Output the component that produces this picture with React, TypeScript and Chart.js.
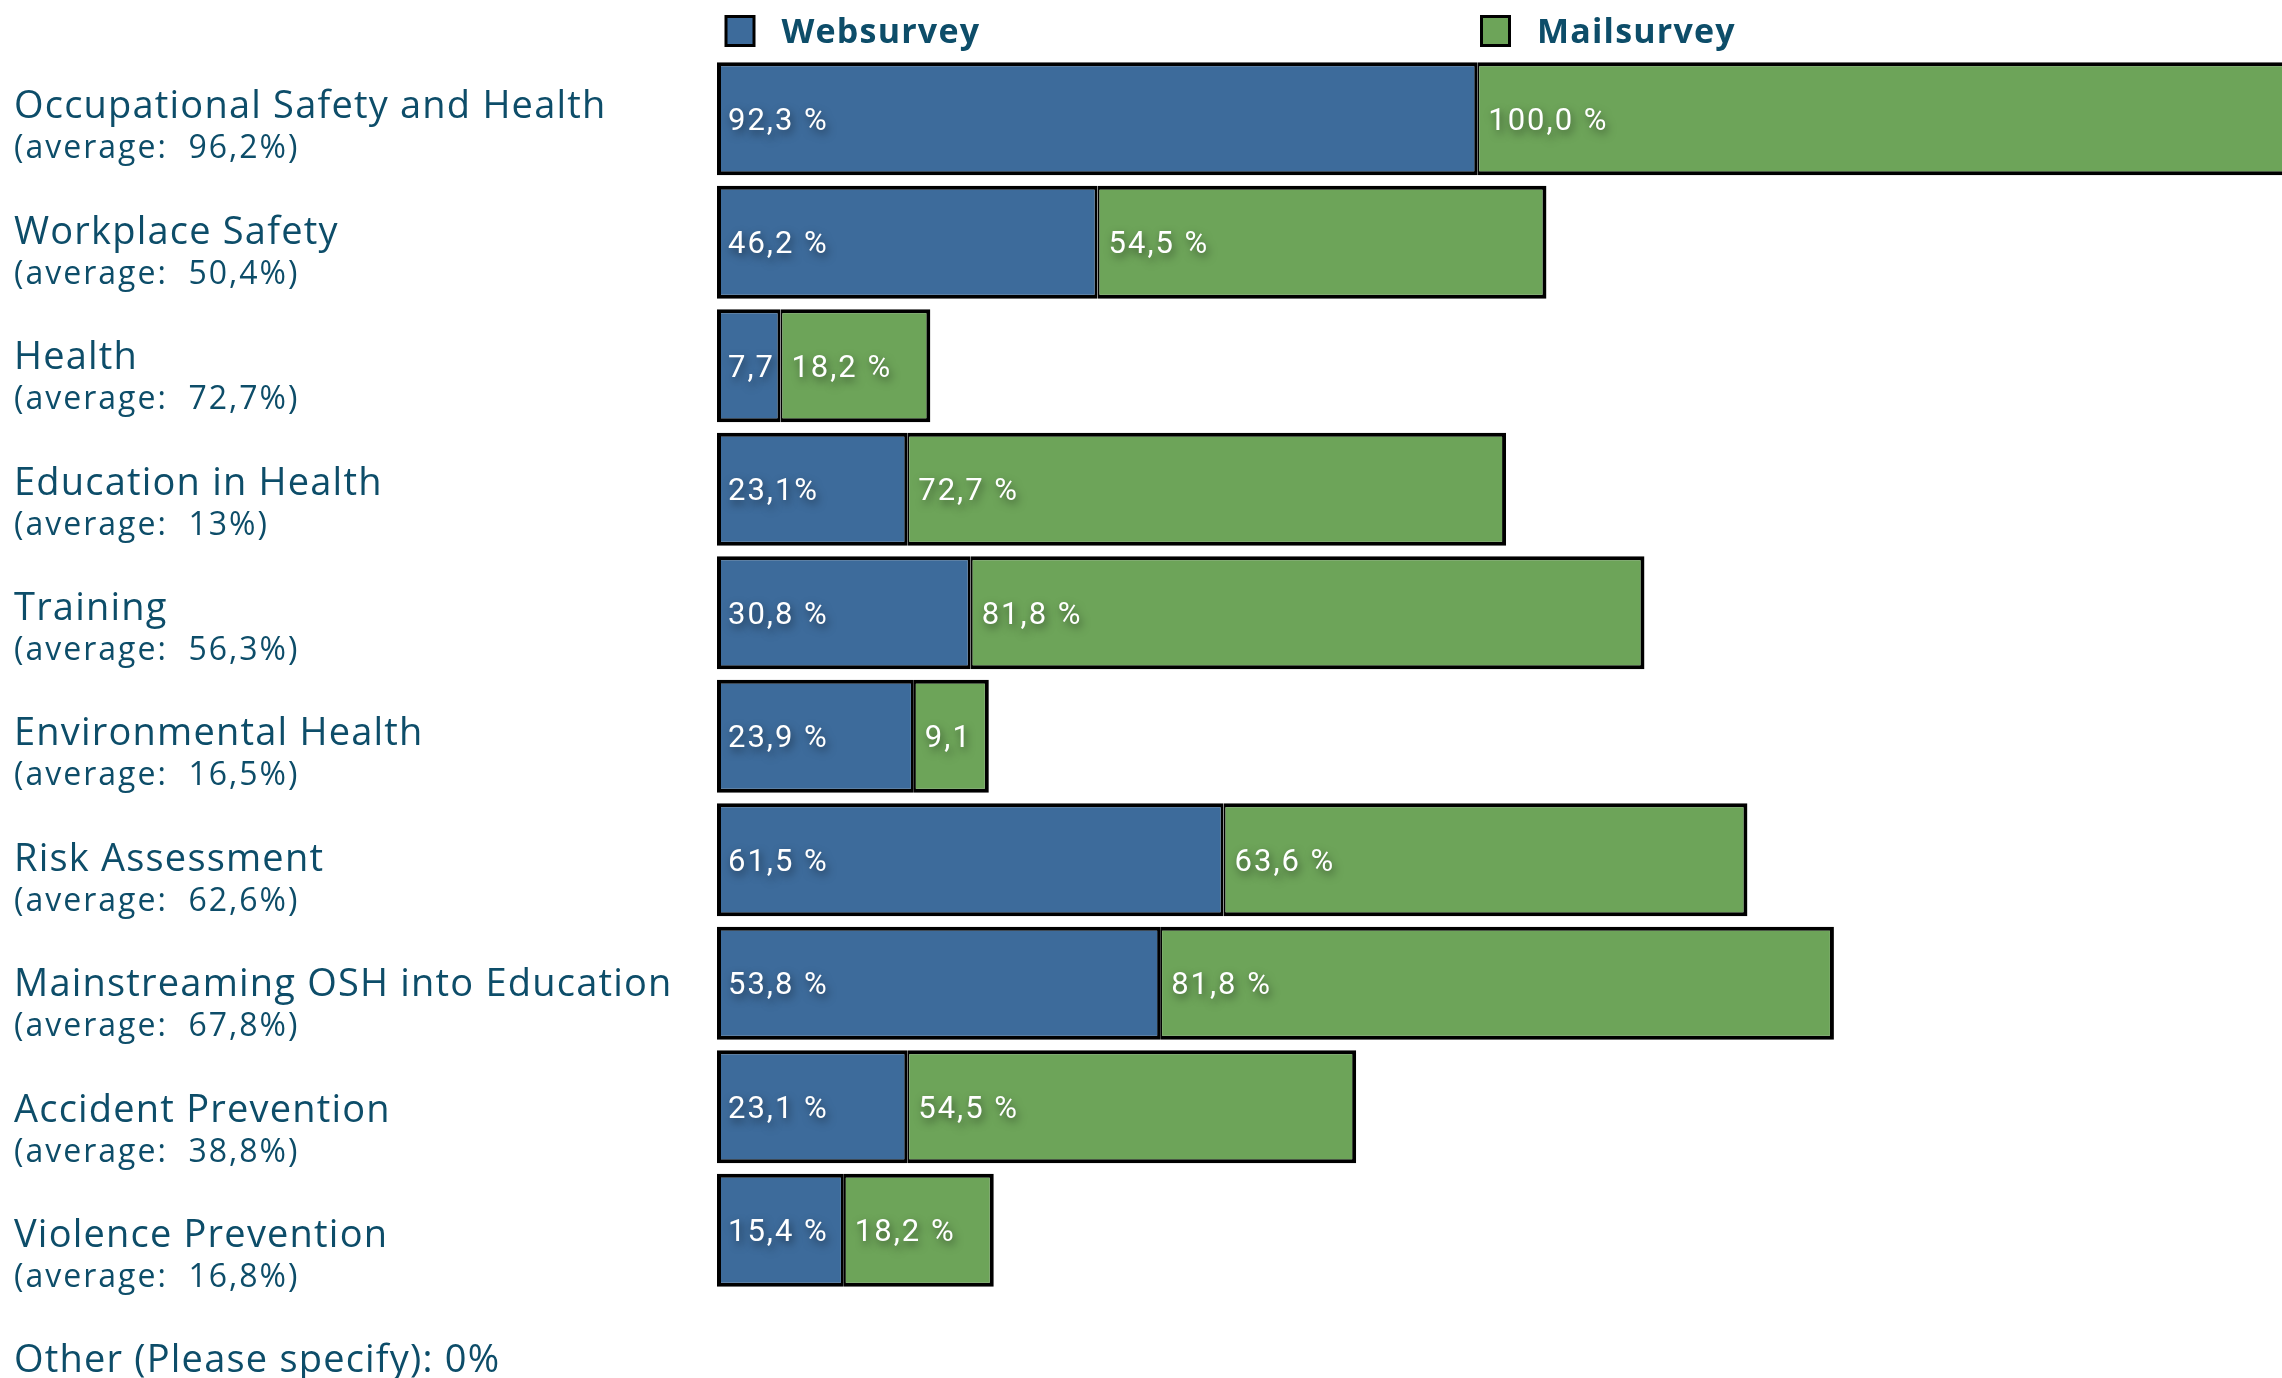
import React, { useEffect, useRef } from "react";
import { Chart, registerables } from "chart.js";

Chart.register(...registerables);

const categories = [
  "Occupational Safety and Health",
  "Workplace Safety",
  "Health",
  "Education in Health",
  "Training",
  "Environmental Health",
  "Risk Assessment",
  "Mainstreaming OSH into Education",
  "Accident Prevention",
  "Violence Prevention",
  "Other (Please specify): 0%",
];
const averages = ["96,2%", "50,4%", "72,7%", "13%", "56,3%", "16,5%", "62,6%", "67,8%", "38,8%", "16,8%", ""];
const seriesNames = ["Websurvey", "Mailsurvey"];
const webValues = [92.3, 46.2, 7.7, 23.1, 30.8, 23.9, 61.5, 53.8, 23.1, 15.4, null];
const mailValues = [100.0, 54.5, 18.2, 72.7, 81.8, 9.1, 63.6, 81.8, 54.5, 18.2, null];
const webLabels = ["92,3 %", "46,2 %", "7,7", "23,1%", "30,8 %", "23,9 %", "61,5 %", "53,8 %", "23,1 %", "15,4 %", ""];
const mailLabels = ["100,0 %", "54,5 %", "18,2 %", "72,7 %", "81,8 %", "9,1", "63,6 %", "81,8 %", "54,5 %", "18,2 %", ""];
const xMax = 190;

const BLUE = "#3d6b9b";
const GREEN = "#6da459";
const TEAL = "#0d4d69";

const barTextPlugin = {
  id: "barText",
  afterDatasetsDraw(chart: any) {
    const ctx = chart.ctx as CanvasRenderingContext2D;
    ctx.save();
    ctx.font = "31px Roboto";
    (ctx as any).letterSpacing = "2px";
    ctx.fillStyle = "#ffffff";
    ctx.shadowColor = "rgba(0,0,0,0.5)";
    ctx.shadowBlur = 9;
    ctx.shadowOffsetX = 2;
    ctx.shadowOffsetY = 4;
    ctx.textBaseline = "alphabetic";
    ctx.textAlign = "left";
    [webLabels, mailLabels].forEach((labels, di) => {
      const meta = chart.getDatasetMeta(di);
      meta.data.forEach((el: any, i: number) => {
        const t = labels[i];
        if (!t) return;
        const p = el.getProps(["x", "y", "base"], true);
        const left = Math.min(p.x, p.base);
        ctx.fillText(t, left + 11, p.y + 11);
      });
    });
    ctx.restore();
  },
};

const sideLabelsPlugin = {
  id: "sideLabels",
  afterDraw(chart: any) {
    const ctx = chart.ctx as CanvasRenderingContext2D;
    const area = chart.chartArea;
    ctx.save();
    ctx.fillStyle = TEAL;
    ctx.textAlign = "left";
    ctx.textBaseline = "alphabetic";
    const firstBase = area.top + 61.3;
    const step = 125.4;
    categories.forEach((name, i) => {
      const yb = firstBase + i * step;
      ctx.font = "38px 'Open Sans'";
      (ctx as any).letterSpacing = "1.2px";
      ctx.fillText(name, 14, yb);
      if (averages[i]) {
        ctx.font = "32px 'Open Sans'";
        (ctx as any).letterSpacing = "2px";
        ctx.fillText(`(average:  ${averages[i]})`, 14, yb + 40);
      }
    });

    // legend
    const colors = [BLUE, GREEN];
    const offsets = [7.5, 763];
    ctx.font = "bold 34px 'Open Sans'";
    (ctx as any).letterSpacing = "1.2px";
    seriesNames.forEach((nm, i) => {
      const bx = area.left + offsets[i];
      ctx.fillStyle = "#000";
      ctx.fillRect(bx, 15, 31, 32);
      ctx.fillStyle = colors[i];
      ctx.fillRect(bx + 3, 18, 25, 26);
      ctx.fillStyle = TEAL;
      ctx.fillText(nm, bx + 57, 43);
    });
    ctx.restore();
  },
};

export default function App() {
  const ref = useRef<HTMLCanvasElement | null>(null);
  useEffect(() => {
    if (!ref.current) return;
    const chart = new Chart(ref.current, {
      type: "bar",
      data: {
        labels: categories,
        datasets: [
          {
            label: seriesNames[0],
            data: webValues as any,
            backgroundColor: BLUE,
            borderColor: "#000",
            borderWidth: { top: 4, right: 3, bottom: 4, left: 4 } as any,
            borderSkipped: false,
            barPercentage: 0.915,
            categoryPercentage: 1,
          },
          {
            label: seriesNames[1],
            data: mailValues as any,
            backgroundColor: GREEN,
            borderColor: "#000",
            borderWidth: { top: 4, right: 4, bottom: 4, left: 2 } as any,
            borderSkipped: false,
            barPercentage: 0.915,
            categoryPercentage: 1,
          },
        ],
      },
      options: {
        indexAxis: "y",
        responsive: false,
        animation: false,
        layout: { padding: { left: 717, right: 0, top: 57, bottom: 4.5 } },
        scales: {
          x: { stacked: true, min: 0, max: xMax, display: false, grid: { display: false } },
          y: { stacked: true, display: false, grid: { display: false } },
        },
        plugins: {
          legend: { display: false },
          tooltip: { enabled: false },
        },
      },
      plugins: [barTextPlugin, sideLabelsPlugin],
    });
    return () => chart.destroy();
  }, []);
  return (
    <div
      style={{
        position: "fixed",
        left: 0,
        top: 0,
        width: 2282,
        height: 1378,
        overflow: "hidden",
        background: "#ffffff",
      }}
    >
      <canvas ref={ref} width={2282} height={1420} style={{ display: "block" }} />
    </div>
  );
}
